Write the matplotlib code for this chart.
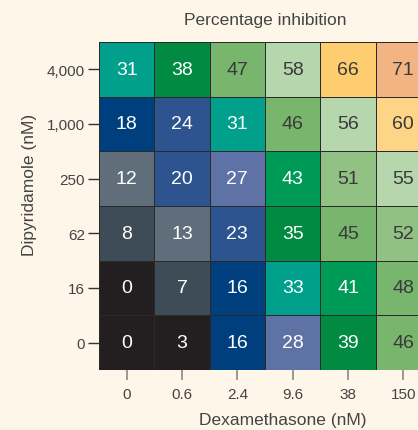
import numpy as np
import matplotlib
matplotlib.use("Agg")
import matplotlib.pyplot as plt
from matplotlib.colors import ListedColormap, BoundaryNorm

dex_labels = ["0", "0.6", "2.4", "9.6", "38", "150"]
dip_labels = ["4,000", "1,000", "250", "62", "16", "0"]  # top to bottom
inhibition = [
    [31, 38, 47, 58, 66, 71],
    [18, 24, 31, 46, 56, 60],
    [12, 20, 27, 43, 51, 55],
    [8, 13, 23, 35, 45, 52],
    [0, 7, 16, 33, 41, 48],
    [0, 3, 16, 28, 39, 46],
]

bounds = [-1, 5, 10, 15, 19, 25, 30, 34, 40, 44, 50, 54, 59, 63, 70, 100]
colors = ["#231f20", "#3d4c56", "#5f6e7a", "#003f7e", "#2d548f", "#5e72a6",
          "#00a08c", "#008a42", "#009a57", "#78b56d", "#91c284", "#b6d6ae",
          "#fed487", "#fdcd70", "#f2b483"]
cmap = ListedColormap(colors)
norm = BoundaryNorm(bounds, cmap.N)

bg = "#fef6e9"
plt.rcParams["font.family"] = ["Liberation Sans", "DejaVu Sans"]
fig = plt.figure(figsize=(4.18, 4.31), dpi=100, facecolor=bg)
W, H = 418, 431
left, right, top, bottom = 99, 431, 43, 371
ax = fig.add_axes([left / W, 1 - bottom / H, (right - left) / W, (bottom - top) / H])
ax.set_facecolor(bg)

data = np.array(inhibition)
nrow, ncol = data.shape
ax.pcolormesh(np.arange(ncol + 1) - 0.5, np.arange(nrow + 1) - 0.5, data,
              cmap=cmap, norm=norm, edgecolors="#2a2a2a", linewidth=0.7)
ax.set_xlim(-0.5, ncol - 0.5)
ax.set_ylim(nrow - 0.5, -0.5)

for i in range(nrow):
    for j in range(ncol):
        v = data[i, j]
        ax.text(j, i, str(v), ha="center", va="center", fontsize=14,
                color="white" if v < 44 else "#3a3a3a")

ax.set_xticks(range(ncol))
ax.set_xticklabels(dex_labels)
ax.set_yticks(range(nrow))
ax.set_yticklabels(dip_labels)
for s in ax.spines.values():
    s.set_visible(False)
ax.tick_params(axis="y", length=8, width=1, color="#333333", labelsize=11,
               labelcolor="#444444", pad=2)
ax.tick_params(axis="x", length=7, width=1.2, color="#888888", labelsize=11,
               labelcolor="#444444", pad=5)

fig.text(265 / W, 1 - 20 / H, "Percentage inhibition", ha="center", va="center",
         fontsize=12.5, color="#444444")
fig.text(283 / W, 1 - 421 / H, "Dexamethasone (nM)", ha="center", va="center",
         fontsize=12.5, color="#444444")
fig.text(30 / W, 1 - 185 / H, "Dipyridamole (nM)", ha="center", va="center",
         rotation=90, fontsize=12.5, color="#444444")

fig.savefig("out.png", dpi=100, facecolor=bg)
